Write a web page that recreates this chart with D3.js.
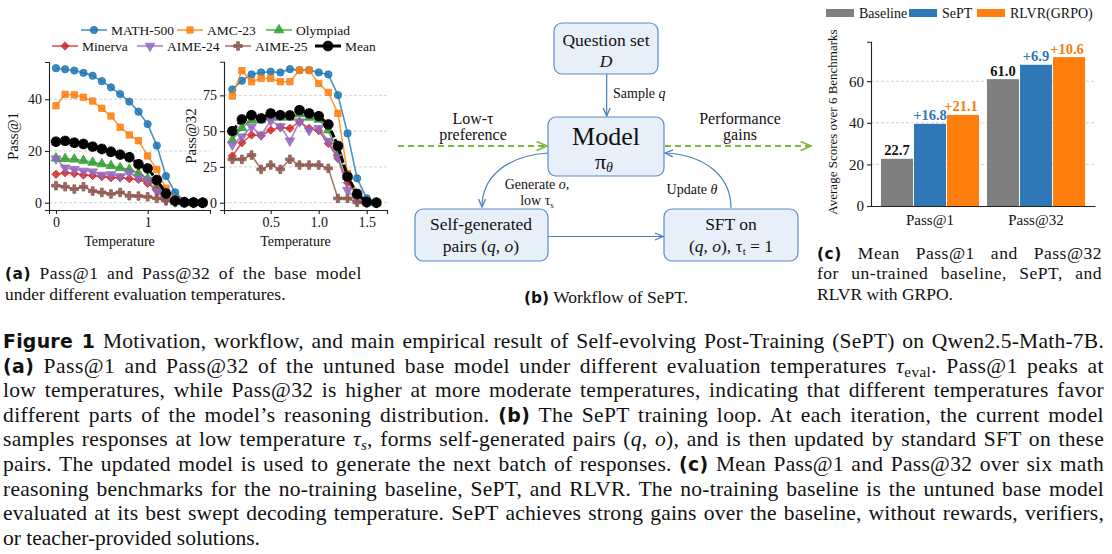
<!DOCTYPE html>
<html>
<head>
<meta charset="utf-8">
<script src="https://cdn.jsdelivr.net/npm/d3@7"></script>
<style>
  body { margin: 0; background: #fff; }
  svg text { font-family: "Liberation Serif", "Times New Roman", serif; fill: #111; }
</style>
</head>
<body>
<svg id="fig" width="1112" height="554"></svg>
<script>
// ---------- data ----------
const temps1 = [0, 0.1, 0.2, 0.3, 0.4, 0.5, 0.6, 0.7, 0.8, 0.9, 1.0, 1.1, 1.2, 1.3, 1.4, 1.5, 1.6];
const temps32 = [0.1, 0.2, 0.3, 0.4, 0.5, 0.6, 0.7, 0.8, 0.9, 1.0, 1.1, 1.2, 1.3, 1.4, 1.5, 1.6];

const seriesNames = ['MATH-500', 'AMC-23', 'Olympiad', 'Minerva', 'AIME-24', 'AIME-25', 'Mean'];

const math500P1 = [52.0, 51.6, 51.1, 50.2, 49.1, 47.0, 44.6, 42.0, 39.1, 35.2, 30.4, 22.1, 10.3, 4.0, 0.7, 0.2, 0.1];
const amc23P1 = [37.5, 41.9, 41.7, 40.8, 39.3, 36.5, 33.5, 29.2, 26.2, 24.0, 18.1, 12.9, 5.6, 1.4, 0.5, 0.2, 0.1];
const olympiadP1 = [17.2, 17.0, 16.8, 16.3, 15.6, 15.0, 14.3, 13.5, 12.9, 11.4, 9.4, 6.2, 2.0, 0.5, 0.2, 0.1, 0.1];
const minervaP1 = [11.0, 11.6, 11.3, 10.7, 10.5, 10.1, 9.7, 9.7, 9.3, 9.0, 7.5, 4.9, 1.7, 0.5, 0.2, 0.1, 0.1];
const aime24P1 = [17.0, 13.5, 12.9, 12.3, 12.0, 10.7, 10.9, 10.1, 11.6, 9.7, 8.8, 4.3, 1.0, 0.3, 0.1, 0.0, 0.0];
const aime25P1 = [6.6, 6.2, 5.3, 6.2, 4.5, 4.0, 3.4, 4.0, 2.7, 2.6, 2.3, 1.7, 0.8, 0.2, 0.0, 0.0, 0.0];
const meanP1 = [23.6, 23.9, 23.2, 22.7, 21.7, 20.8, 19.7, 18.6, 17.6, 14.9, 13.3, 8.8, 3.6, 0.8, 0.2, 0.1, 0.0];

const math500P32 = [79.1, 85.2, 89.6, 91.0, 91.5, 91.0, 93.3, 92.6, 92.6, 91.0, 89.6, 75.2, 48.4, 17.0, 3.0, 0.0];
const amc23P32 = [74.5, 92.2, 84.5, 86.8, 86.8, 84.5, 84.5, 92.6, 92.6, 83.3, 77.0, 62.4, 20.5, 6.5, 0.7, 0.0];
const olympiadP32 = [43.8, 52.4, 57.7, 57.7, 59.6, 59.6, 59.6, 61.9, 59.6, 58.2, 50.7, 34.4, 18.2, 5.4, 0.5, 0.0];
const minervaP32 = [32.6, 41.9, 47.3, 46.8, 50.7, 52.6, 51.9, 56.6, 51.9, 50.3, 41.4, 31.0, 14.0, 5.4, 0.5, 0.0];
const aime24P32 = [40.5, 46.1, 53.1, 47.3, 57.2, 53.3, 43.2, 56.6, 50.6, 52.0, 43.0, 31.5, 8.7, 1.7, 0.0, 0.0];
const aime25P32 = [30.3, 30.3, 33.3, 23.3, 26.3, 23.3, 30.3, 26.3, 26.3, 26.3, 24.0, 3.0, 3.0, 0.2, 0.0, 0.0];
const meanP32 = [50.0, 58.2, 61.2, 58.9, 62.4, 61.2, 61.0, 64.7, 62.4, 60.5, 54.7, 39.6, 18.2, 6.1, 0.5, 0.0];

const p1Ticks = [0, 20, 40];
const p32Ticks = [0, 25, 50, 75];
const t1Ticks = [0, 1];
const t32Ticks = [0.5, 1.0, 1.5];

const barGroups = ['Pass@1', 'Pass@32'];
const barMethods = ['Baseline', 'SePT', 'RLVR(GRPO)'];
const barValuesP1 = [22.7, 39.5, 43.8];
const barValuesP32 = [61.0, 67.9, 71.6];
const barLabelsP1 = ['22.7', '+16.8', '+21.1'];
const barLabelsP32 = ['61.0', '+6.9', '+10.6'];
const barTicks = [0, 20, 40, 60];

// ---------- styles ----------
const colors = ['#1f77b4', '#ff7f0e', '#2ca02c', '#d62728', '#9467bd', '#8c564b', '#000000'];
const shapes = ['circle', 'square', 'tri', 'diamond', 'tridown', 'plus', 'mean'];
const barColors = ['#7f7f7f', '#2f78b8', '#ff7f0e'];
const labelColors = ['#111', '#2f78b8', '#f08010'];
const SERIF = '"Liberation Serif", "Times New Roman", serif';
const SANS = '"DejaVu Sans", sans-serif';

const svg = d3.select('#fig');
svg.append('rect').attr('width', 1112).attr('height', 554).attr('fill', '#fff');

function marker(g, shape, x, y, color) {
    var sym;
    var rot = 0;
    if (shape == 'circle') sym = d3.symbol(d3.symbolCircle, 42);
    else if (shape == 'square') sym = d3.symbol(d3.symbolSquare, 40);
    else if (shape == 'tri') sym = d3.symbol(d3.symbolTriangle, 40);
    else if (shape == 'diamond') { sym = d3.symbol(d3.symbolSquare, 34); rot = 45; }
    else if (shape == 'tridown') { sym = d3.symbol(d3.symbolTriangle, 40); rot = 180; }
    else if (shape == 'plus') sym = d3.symbol(d3.symbolCross, 40);
    if (shape == 'mean') {
        g.append('path').attr('d', d3.symbol(d3.symbolCross, 60)())
            .attr('transform', `translate(${x},${y})`).attr('fill', '#000');
        g.append('path').attr('d', d3.symbol(d3.symbolCross, 60)())
            .attr('transform', `translate(${x},${y}) rotate(45)`).attr('fill', '#000');
        return;
    }
    g.append('path').attr('d', sym())
        .attr('transform', `translate(${x},${y}) rotate(${rot})`)
        .attr('fill', color).attr('fill-opacity', 0.85)
        .attr('stroke', color).attr('stroke-width', 0.8);
}

function linePanel(opts) {
    var g = svg.append('g');
    var x = d3.scaleLinear().domain(opts.xDomain).range(opts.xRange);
    var y = d3.scaleLinear().domain(opts.yDomain).range(opts.yRange);

    // grid
    g.selectAll('.grid').data(opts.yTicks).enter().append('line')
        .attr('x1', opts.xRange[0]).attr('x2', opts.xRange[1])
        .attr('y1', d => y(d)).attr('y2', d => y(d))
        .attr('stroke', '#c8c8c8').attr('stroke-width', 0.8).attr('stroke-dasharray', '3,2');

    var yAxis = d3.axisLeft(y).tickValues(opts.yTicks).tickSize(4).tickPadding(3);
    var xAxis = d3.axisBottom(x).tickValues(opts.xTicks).tickSize(4).tickPadding(3).tickFormat(opts.xFormat);

    var ya = g.append('g').attr('transform', `translate(${opts.xRange[0]},0)`).call(yAxis);
    var xa = g.append('g').attr('transform', `translate(0,${opts.yRange[0]})`).call(xAxis);
    [ya, xa].forEach(a => {
        a.select('.domain').attr('stroke', '#222').attr('stroke-width', 1.1);
        a.selectAll('.tick line').attr('stroke', '#222').attr('stroke-width', 1.1);
        a.selectAll('.tick text').style('font-family', SERIF).style('font-size', '14px').attr('fill', '#111');
    });

    g.append('text').attr('x', (opts.xRange[0] + opts.xRange[1]) / 2 + opts.xLabelShift).attr('y', 246)
        .attr('text-anchor', 'middle').style('font-size', '14px').text('Temperature');
    g.append('text').attr('transform', `translate(${opts.yLabelX},136) rotate(-90)`)
        .attr('text-anchor', 'middle').style('font-size', '15px').text(opts.yLabel);

    opts.series.forEach((vals, i) => {
        var pts = vals.map((v, j) => [x(opts.temps[j]), y(v)]);
        var isMean = i == 6;
        g.append('path').attr('d', d3.line()(pts))
            .attr('fill', 'none').attr('stroke', colors[i])
            .attr('stroke-opacity', isMean ? 1 : 0.8)
            .attr('stroke-width', isMean ? 3 : 1.6)
            .attr('stroke-dasharray', isMean ? '7,2' : null);
        var mg = g.append('g');
        pts.forEach(p => marker(mg, shapes[i], p[0], p[1], colors[i]));
    });
}

linePanel({
    xDomain: [-0.076, 1.68], xRange: [49, 210],
    yDomain: [-2.8, 54.4], yRange: [210, 62],
    yTicks: p1Ticks, xTicks: t1Ticks, xFormat: d3.format('d'),
    temps: temps1, yLabel: 'Pass@1', yLabelX: 18, xLabelShift: -10,
    series: [math500P1, amc23P1, olympiadP1, minervaP1, aime24P1, aime25P1, meanP1]
});
linePanel({
    xDomain: [0.0135, 1.711], xRange: [224, 387],
    yDomain: [-5.1, 98.5], yRange: [210, 61.7],
    yTicks: p32Ticks, xTicks: t32Ticks, xFormat: d3.format('.1f'),
    temps: temps32, yLabel: 'Pass@32', yLabelX: 196, xLabelShift: -10,
    series: [math500P32, amc23P32, olympiadP32, minervaP32, aime24P32, aime25P32, meanP32]
});

// legend for (a)
var legendPos = [[81, 30], [177, 30], [266, 30], [52, 46], [137, 46], [225, 46], [315, 46]];
var lg = svg.append('g');
seriesNames.forEach((name, i) => {
    var lx = legendPos[i][0], ly = legendPos[i][1];
    lg.append('line').attr('x1', lx).attr('x2', lx + 26).attr('y1', ly).attr('y2', ly)
        .attr('stroke', colors[i]).attr('stroke-width', i == 6 ? 3 : 1.6).attr('stroke-opacity', i == 6 ? 1 : 0.8);
    marker(lg, shapes[i], lx + 13, ly, colors[i]);
    lg.append('text').attr('x', lx + 30).attr('y', ly + 4.5).style('font-size', '13.5px').text(name);
});

// ---------- (b) workflow ----------
var defs = svg.append('defs');
function arrowDef(id, color, size) {
    defs.append('marker').attr('id', id).attr('viewBox', '0 0 10 10')
        .attr('refX', 9).attr('refY', 5).attr('markerWidth', size).attr('markerHeight', size)
        .attr('markerUnits', 'userSpaceOnUse').attr('orient', 'auto')
        .append('path').attr('d', 'M1,1.5 L9,5 L1,8.5').attr('fill', 'none')
        .attr('stroke', color).attr('stroke-width', 1.3);
}
arrowDef('arrB', '#4a7fc0', 10);
arrowDef('arrG', '#7cb83e', 13);

var wf = svg.append('g');
var boxes = [
    {x: 554, y: 23, w: 104, h: 51},
    {x: 548, y: 117, w: 116, h: 59},
    {x: 415, y: 209, w: 133, h: 52},
    {x: 664, y: 209, w: 134, h: 52}
];
boxes.forEach(b => {
    wf.append('rect').attr('x', b.x).attr('y', b.y).attr('width', b.w).attr('height', b.h)
        .attr('rx', 8).attr('fill', '#e7eff8').attr('stroke', '#5a8cc6').attr('stroke-width', 1.2);
});
function wtext(x, y, size, parts, anchor) {
    var t = wf.append('text').attr('x', x).attr('y', y).attr('text-anchor', anchor || 'middle')
        .style('font-size', size + 'px');
    parts.forEach(p => {
        var s = t.append('tspan').text(p.t);
        if (p.i) s.style('font-style', 'italic');
        if (p.dy) s.attr('dy', p.dy);
        if (p.fs) s.style('font-size', p.fs + 'px');
    });
    return t;
}
wtext(606, 46, 17.5, [{t: 'Question set'}]);
wtext(606, 67, 17.5, [{t: 'D', i: 1}]);
wtext(606, 145, 26, [{t: 'Model'}]);
wtext(604, 169, 22, [{t: 'π'}, {t: 'θ', i: 1, dy: 3, fs: 14}]);
wtext(481, 230, 17.5, [{t: 'Self-generated'}]);
wtext(481, 252, 17.5, [{t: 'pairs ('}, {t: 'q', i: 1}, {t: ', '}, {t: 'o', i: 1}, {t: ')'}]);
wtext(731, 230, 17.5, [{t: 'SFT on'}]);
wtext(731, 252, 17.5, [{t: '('}, {t: 'q', i: 1}, {t: ', '}, {t: 'o', i: 1}, {t: '), τ'}, {t: 't', dy: 3, fs: 11}, {t: ' = 1', dy: -3}]);

wtext(473, 124, 16, [{t: 'Low-τ'}]);
wtext(473, 140, 16, [{t: 'preference'}]);
wtext(740, 124, 16, [{t: 'Performance'}]);
wtext(740, 140, 16, [{t: 'gains'}]);
wtext(613, 98, 14, [{t: 'Sample '}, {t: 'q', i: 1}], 'start');
wtext(537, 189, 14, [{t: 'Generate '}, {t: 'o', i: 1}, {t: ','}]);
wtext(537, 205, 14, [{t: 'low τ'}, {t: 's', dy: 3, fs: 9}]);
wtext(692, 194, 14, [{t: 'Update '}, {t: 'θ', i: 1}]);

wf.append('path').attr('d', 'M606.7,74 L606.7,116').attr('stroke', '#4a7fc0').attr('stroke-width', 1.2)
    .attr('fill', 'none').attr('marker-end', 'url(#arrB)');
wf.append('path').attr('d', 'M548,236.5 L663,236.5').attr('stroke', '#4a7fc0').attr('stroke-width', 1.2)
    .attr('fill', 'none').attr('marker-end', 'url(#arrB)');
wf.append('path').attr('d', 'M548,153 C505,156 482,178 482,207').attr('stroke', '#4a7fc0').attr('stroke-width', 1.2)
    .attr('fill', 'none').attr('marker-end', 'url(#arrB)');
wf.append('path').attr('d', 'M731,208 C731,176 705,155 665,153').attr('stroke', '#4a7fc0').attr('stroke-width', 1.2)
    .attr('fill', 'none').attr('marker-end', 'url(#arrB)');
wf.append('path').attr('d', 'M398,146 L547,146').attr('stroke', '#7cb83e').attr('stroke-width', 2.2)
    .attr('stroke-dasharray', '6,4').attr('fill', 'none').attr('marker-end', 'url(#arrG)');
wf.append('path').attr('d', 'M665,146 L811,146').attr('stroke', '#7cb83e').attr('stroke-width', 2.2)
    .attr('stroke-dasharray', '6,4').attr('fill', 'none').attr('marker-end', 'url(#arrG)');

// ---------- (c) bar chart ----------
var bg = svg.append('g');
var xg = d3.scaleBand().domain(barGroups).range([871, 1095]).paddingInner(0.075).paddingOuter(0.094);
var xm = d3.scaleBand().domain(barMethods).range([0, xg.bandwidth()]).paddingInner(0.03);
var yb = d3.scaleLinear().domain([0, 79]).range([206, 41.7]);

bg.selectAll('.bgrid').data(barTicks.slice(1)).enter().append('line')
    .attr('x1', 871).attr('x2', 1095).attr('y1', d => yb(d)).attr('y2', d => yb(d))
    .attr('stroke', '#c8c8c8').attr('stroke-width', 0.8).attr('stroke-dasharray', '3,2');

var barData = [];
barGroups.forEach((grp, gi) => {
    var vals = gi == 0 ? barValuesP1 : barValuesP32;
    var labs = gi == 0 ? barLabelsP1 : barLabelsP32;
    barMethods.forEach((m, mi) => barData.push({grp: grp, m: m, mi: mi, v: vals[mi], lab: labs[mi]}));
});
bg.selectAll('.bar').data(barData).enter().append('rect')
    .attr('x', d => xg(d.grp) + xm(d.m)).attr('width', xm.bandwidth())
    .attr('y', d => yb(d.v)).attr('height', d => yb(0) - yb(d.v))
    .attr('fill', d => barColors[d.mi]);
bg.selectAll('.blab').data(barData).enter().append('text')
    .attr('x', d => xg(d.grp) + xm(d.m) + xm.bandwidth() / 2 + (d.mi == 2 ? -2 : 0))
    .attr('y', d => yb(d.v) - 3.5).attr('text-anchor', 'middle')
    .style('font-size', '14.5px').style('font-weight', 'bold').style('fill', d => labelColors[d.mi])
    .text(d => d.lab);

var bya = bg.append('g').attr('transform', 'translate(871,0)')
    .call(d3.axisLeft(yb).tickValues(barTicks).tickSize(4).tickPadding(3));
var bxa = bg.append('g').attr('transform', 'translate(0,206)')
    .call(d3.axisBottom(xg).tickSize(0).tickPadding(8));
[bya, bxa].forEach(a => {
    a.select('.domain').attr('stroke', '#222').attr('stroke-width', 1.1);
    a.selectAll('.tick line').attr('stroke', '#222').attr('stroke-width', 1.1);
    a.selectAll('.tick text').style('font-family', SERIF).style('font-size', '15px').attr('fill', '#111');
});
bg.append('text').attr('transform', 'translate(837,122) rotate(-90)').attr('text-anchor', 'middle')
    .style('font-size', '13px').text('Average Scores over 6 Benchmarks');

var barLegendX = [826, 909, 977];
barMethods.forEach((m, i) => {
    bg.append('rect').attr('x', barLegendX[i]).attr('y', 9).attr('width', 28).attr('height', 8).attr('fill', barColors[i]);
    bg.append('text').attr('x', barLegendX[i] + 33).attr('y', 17.5).style('font-size', '14px').text(m);
});

// ---------- captions ----------
// justify a line: spread a little into letters, the rest into word gaps; squeeze if too long
function captionLine(x, y, size, parts, width) {
    var t = svg.append('text').attr('x', x).attr('y', y)
        .style('font-family', SERIF).style('font-size', size + 'px');
    parts.forEach(p => {
        var s = t.append('tspan').text(p.t);
        if (p.b) s.style('font-family', SANS).style('font-weight', 'bold').style('font-size', (size * 0.88) + 'px');
        if (p.i) s.style('font-style', 'italic');
        if (p.sub) s.attr('dy', 4).style('font-size', (size * 0.7) + 'px');
        if (p.up) s.attr('dy', -4);
    });
    if (width) {
        var nat = t.node().getComputedTextLength();
        var text = parts.map(p => p.t).join('');
        var spaces = (text.match(/ /g) || []).length;
        var deficit = width - nat;
        if (deficit < 0) {
            t.attr('textLength', width).attr('lengthAdjust', 'spacingAndGlyphs');
        } else if (spaces > 0) {
            var ls = Math.min(0.5, deficit * 0.5 / text.length);
            var rest = deficit - ls * text.length;
            t.style('letter-spacing', ls + 'px').style('word-spacing', (rest / spaces) + 'px');
        }
    }
    return t;
}

// (a)
captionLine(5, 279, 17.5, [{t: '(a)', b: 1}, {t: ' Pass@1 and Pass@32 of the base model'}], 357);
captionLine(5, 300, 17.5, [{t: 'under different evaluation temperatures.'}]);
// (b)
var cb = captionLine(0, 303, 17.5, [{t: '(b)', b: 1}, {t: ' Workflow of SePT.'}]);
cb.attr('x', 606).attr('text-anchor', 'middle');
// (c)
captionLine(817, 259, 17.5, [{t: '(c)', b: 1}, {t: ' Mean Pass@1 and Pass@32'}], 285);
captionLine(817, 279, 17.5, [{t: 'for un-trained baseline, SePT, and'}], 285);
captionLine(817, 300, 17.5, [{t: 'RLVR with GRPO.'}]);

// main caption
const capLines = [
    [{t: 'Figure 1', b: 1}, {t: ' Motivation, workflow, and main empirical result of Self-evolving Post-Training (SePT) on Qwen2.5-Math-7B.'}],
    [{t: '(a)', b: 1}, {t: ' Pass@1 and Pass@32 of the untuned base model under different evaluation temperatures '}, {t: 'τ', i: 1}, {t: 'eval', sub: 1}, {t: '. Pass@1 peaks at', up: 1}],
    [{t: 'low temperatures, while Pass@32 is higher at more moderate temperatures, indicating that different temperatures favor'}],
    [{t: 'different parts of the model’s reasoning distribution. '}, {t: '(b)', b: 1}, {t: ' The SePT training loop. At each iteration, the current model'}],
    [{t: 'samples responses at low temperature '}, {t: 'τ', i: 1}, {t: 's', i: 1, sub: 1}, {t: ', forms self-generated pairs (', up: 1}, {t: 'q', i: 1}, {t: ', '}, {t: 'o', i: 1}, {t: '), and is then updated by standard SFT on these'}],
    [{t: 'pairs. The updated model is used to generate the next batch of responses. '}, {t: '(c)', b: 1}, {t: ' Mean Pass@1 and Pass@32 over six math'}],
    [{t: 'reasoning benchmarks for the no-training baseline, SePT, and RLVR. The no-training baseline is the untuned base model'}],
    [{t: 'evaluated at its best swept decoding temperature. SePT achieves strong gains over the baseline, without rewards, verifiers,'}],
    [{t: 'or teacher-provided solutions.'}]
];
capLines.forEach((parts, i) => {
    captionLine(3, 348 + i * 24.6, 21.5, parts, i < capLines.length - 1 ? 1101 : null);
});
</script>
</body>
</html>
